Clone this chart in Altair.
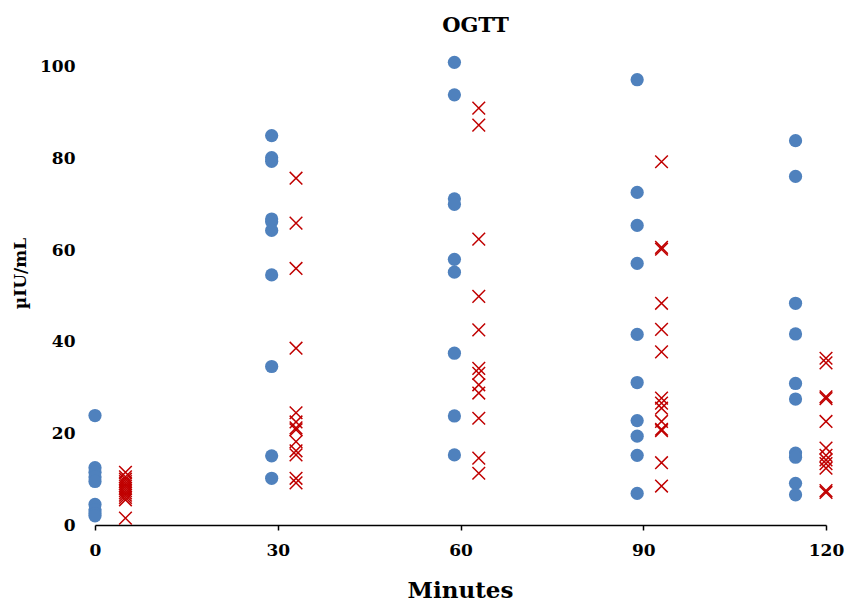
import altair as alt
import pandas as pd

# Blue circles: x position and values per group
blue_groups = [0, 29, 59, 89, 115]
blue_values = [
    [23.9, 12.5, 11.5, 10.5, 9.5, 4.5, 3.3, 2.5, 2.0],
    [85.0, 80.2, 79.4, 66.8, 66.2, 64.3, 54.6, 34.6, 15.1, 10.2],
    [101.0, 93.9, 71.2, 70.0, 58.0, 55.2, 37.5, 23.8, 15.3],
    [97.2, 72.6, 65.4, 57.1, 41.6, 31.1, 22.8, 19.4, 15.2, 6.9],
    [83.9, 76.1, 48.4, 41.7, 30.9, 27.5, 15.7, 14.8, 9.1, 6.6],
]

# Red crosses
red_groups = [5, 33, 63, 93, 120]
red_values = [
    [11.5, 10.5, 10.0, 9.5, 9.0, 8.5, 8.0, 7.5, 7.0, 6.5, 6.0, 5.5, 1.5],
    [75.7, 65.9, 56.0, 38.6, 24.5, 22.5, 21.2, 20.8, 18.2, 16.2, 15.3, 10.2, 9.2],
    [91.0, 87.3, 62.4, 49.9, 42.6, 34.2, 33.1, 30.6, 28.8, 23.3, 14.6, 11.3],
    [79.3, 60.6, 60.2, 48.4, 42.7, 37.8, 27.7, 26.6, 25.5, 22.6, 20.9, 20.6, 13.6, 8.5],
    [36.4, 35.4, 28.0, 27.6, 22.6, 16.8, 15.2, 14.2, 13.4, 12.4, 7.5, 7.1],
]

blue_df = pd.DataFrame(
    [(g, v) for g, vals in zip(blue_groups, blue_values) for v in vals],
    columns=["Minutes", "value"])
red_df = pd.DataFrame(
    [(g, v) for g, vals in zip(red_groups, red_values) for v in vals],
    columns=["Minutes", "value"])

FONT = "DejaVu Serif"
xscale = alt.Scale(domain=[0, 120], nice=False, zero=False)
yscale = alt.Scale(domain=[0, 105], nice=False)

xaxis = alt.Axis(values=[0, 30, 60, 90, 120], title="Minutes", grid=False,
                 domainColor="black", domainWidth=1.5, tickColor="black",
                 tickSize=5, tickWidth=1.5, labelFont=FONT, labelFontSize=17,
                 labelFontWeight="bold", labelColor="black", labelPadding=12,
                 labelFlush=False,
                 titleFont=FONT, titleFontSize=23, titleFontWeight="bold",
                 titleColor="black", titleX=365, titleY=65,
                 titleBaseline="middle", titleAlign="center")
yaxis = alt.Axis(values=[0, 20, 40, 60, 80, 100], title="µIU/mL", grid=False,
                 domain=False, ticks=False, labelFont=FONT, labelFontSize=17,
                 labelFontWeight="bold", labelColor="black", labelPadding=20,
                 labelFlush=False,
                 titleFont=FONT, titleFontSize=17, titleFontWeight="bold",
                 titleColor="black", titleAngle=-90, titleX=-75, titleY=229,
                 titleBaseline="middle", titleAlign="center")

blue = alt.Chart(blue_df).mark_point(
    shape="circle", filled=True, size=175, opacity=1, color="#4F81BD"
).encode(
    x=alt.X("Minutes:Q", scale=xscale, axis=xaxis),
    y=alt.Y("value:Q", scale=yscale, axis=yaxis),
)

red = alt.Chart(red_df).mark_point(
    shape="M-1,-1L1,1M-1,1L1,-1", filled=False, size=160, opacity=1,
    color="#C00000", strokeWidth=1.5
).encode(
    x=alt.X("Minutes:Q", scale=xscale),
    y=alt.Y("value:Q", scale=yscale),
)

chart = alt.layer(blue, red).properties(
    width=731, height=481,
    autosize=alt.AutoSizeParams(type="none"),
    padding={"left": 95, "top": 44, "right": 23, "bottom": 81},
    title=alt.TitleParams("OGTT", font=FONT, fontSize=21, fontWeight="bold",
                          color="black", anchor="middle", frame="group",
                          dx=15, offset=8),
).configure(background="white").configure_view(stroke=None)

chart.save("out.html", embed_options={"renderer": "svg", "actions": False})
